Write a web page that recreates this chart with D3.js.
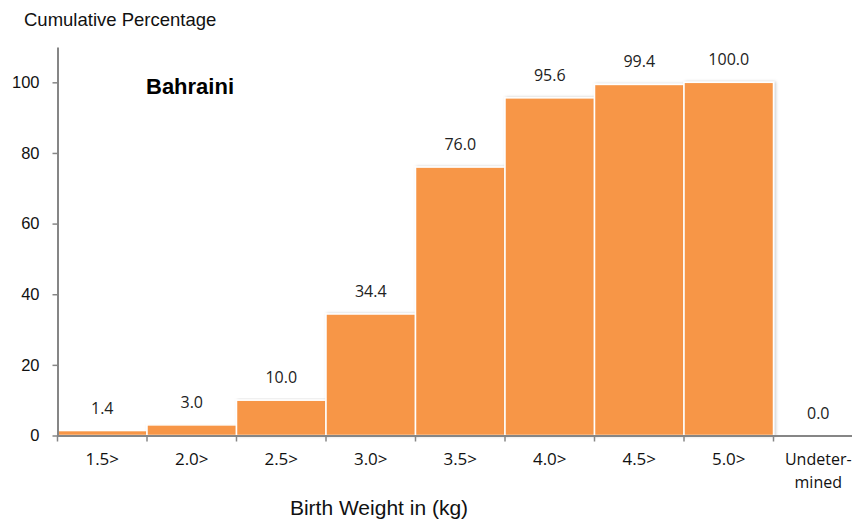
<!DOCTYPE html>
<html>
<head>
<meta charset="utf-8">
<script src="https://cdn.jsdelivr.net/npm/d3@7"></script>
<style>
  body { margin: 0; background: #fff; }
  svg { display: block; }
</style>
</head>
<body>
<div id="chart"></div>
<script>
// Data
var categories = ["1.5>", "2.0>", "2.5>", "3.0>", "3.5>", "4.0>", "4.5>", "5.0>", "Undetermined"];
var values = [1.4, 3.0, 10.0, 34.4, 76.0, 95.6, 99.4, 100.0, 0.0];
var yTicks = [0, 20, 40, 60, 80, 100];

var width = 852, height = 520;
var barColour = "#F79646";
var axisColour = "#868686";

var svg = d3.select("#chart")
    .append("svg")
    .attr("width", width)
    .attr("height", height);

var x = d3.scaleBand()
    .domain(categories)
    .range([57.5, 863])
    .padding(0);

var y = d3.scaleLinear()
    .domain([0, 110])
    .range([435.5, 47]);

// soft shadow behind the bars
var defs = svg.append("defs");
var filter = defs.append("filter").attr("id", "shadow")
    .attr("x", "-5%").attr("y", "-5%").attr("width", "115%").attr("height", "115%");
filter.append("feDropShadow")
    .attr("dx", 1.5).attr("dy", 0)
    .attr("stdDeviation", 1.5)
    .attr("flood-color", "#000")
    .attr("flood-opacity", 0.22);

// Bars
svg.append("g")
    .selectAll("rect")
    .data(values)
    .enter()
    .append("rect")
    .attr("x", function(d, i) { return x(categories[i]); })
    .attr("y", function(d) { return y(d); })
    .attr("width", x.bandwidth())
    .attr("height", function(d) { return y(0) - y(d); })
    .attr("fill", barColour)
    .attr("stroke", "#fff")
    .attr("stroke-width", 1.5)
    .attr("filter", "url(#shadow)");

// Value labels
svg.append("g")
    .selectAll("text")
    .data(values)
    .enter()
    .append("text")
    .attr("x", function(d, i) { return x(categories[i]) + x.bandwidth() / 2; })
    .attr("y", function(d) { return y(d) - 17; })
    .attr("text-anchor", "middle")
    .style("font-family", "'Open Sans', 'Noto Sans', sans-serif")
    .style("font-size", "16px")
    .style("fill", "#222")
    .text(function(d) { return d.toFixed(1); });

// Y axis
var yAxis = svg.append("g")
    .attr("transform", "translate(57.5,0)")
    .call(d3.axisLeft(y).tickValues(yTicks).tickSize(5).tickSizeOuter(0).tickPadding(13));
yAxis.select(".domain").attr("stroke", axisColour).attr("stroke-width", 2);
yAxis.selectAll(".tick line").attr("stroke", axisColour).attr("stroke-width", 1.5);
yAxis.selectAll(".tick text")
    .style("font-family", "'Liberation Sans', Arial, sans-serif")
    .style("font-size", "16.5px")
    .style("fill", "#111");

// X axis
var xAxis = svg.append("g")
    .attr("transform", "translate(0," + y(0) + ")")
    .call(d3.axisBottom(x).tickSize(0).tickSizeOuter(0).tickPadding(0));
xAxis.select(".domain").attr("stroke", axisColour).attr("stroke-width", 2);
xAxis.selectAll(".tick text").remove();

// tick marks at band edges
xAxis.selectAll(".edge")
    .data(categories)
    .enter()
    .append("line")
    .attr("class", "edge")
    .attr("x1", function(d) { return x(d); })
    .attr("x2", function(d) { return x(d); })
    .attr("y1", 0)
    .attr("y2", 6)
    .attr("stroke", axisColour)
    .attr("stroke-width", 1.5);

// category labels
var catLabels = xAxis.selectAll(".cat")
    .data(categories)
    .enter()
    .append("text")
    .attr("class", "cat")
    .attr("text-anchor", "middle")
    .attr("x", function(d) { return x(d) + x.bandwidth() / 2; })
    .attr("y", 29.5)
    .style("font-family", "'Open Sans', 'Noto Sans', sans-serif")
    .style("font-size", "17px")
    .style("fill", "#111");

catLabels.each(function(d) {
    var t = d3.select(this);
    if (d == "Undetermined") {
        t.style("font-size", "16px");
        t.append("tspan").attr("x", t.attr("x")).attr("y", 29.5).text("Undeter-");
        t.append("tspan").attr("x", t.attr("x")).attr("y", 52.5).text("mined");
    } else {
        t.text(d);
    }
});

// Titles
svg.append("text")
    .attr("x", 24)
    .attr("y", 25.5)
    .style("font-family", "'Liberation Sans', Arial, sans-serif")
    .style("font-size", "18.5px")
    .style("fill", "#111")
    .text("Cumulative Percentage");

svg.append("text")
    .attr("x", 379)
    .attr("y", 515)
    .attr("text-anchor", "middle")
    .style("font-family", "'Liberation Sans', Arial, sans-serif")
    .style("font-size", "21px")
    .style("fill", "#111")
    .text("Birth Weight in (kg)");

svg.append("text")
    .attr("x", 146)
    .attr("y", 94)
    .style("font-family", "'Liberation Sans', Arial, sans-serif")
    .style("font-size", "22px")
    .style("font-weight", "bold")
    .style("fill", "#000")
    .text("Bahraini");
</script>
</body>
</html>
